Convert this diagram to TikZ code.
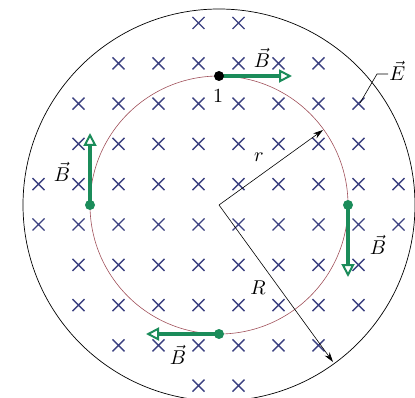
\documentclass[tikz,border=0pt]{standalone}
\usetikzlibrary{arrows.meta}
\definecolor{crossblue}{HTML}{3B4080}
\definecolor{bgreen}{HTML}{1B8C5A}
\definecolor{ringred}{HTML}{A0505A}
\begin{document}
\begin{tikzpicture}[x=1pt,y=-1pt,
  crossmark/.style={draw=crossblue,line width=1.4pt},
  barrow/.style={draw=bgreen,line width=4pt,
    -{Triangle[open,length=13pt,width=13pt,line width=2pt]}},
  lbl/.style={scale=2.0,inner sep=0pt},
  radline/.style={draw=black,line width=0.6pt,-{Stealth[length=10pt,width=6pt]}}]
\useasboundingbox (0,0) rectangle (415,398);
% circles
\coordinate (O) at (219,205);
\draw[line width=0.7pt] (O) circle[radius=196];
\draw[ringred,line width=0.6pt] (O) circle[radius=129];
% crosses
\foreach \j/\a/\b in {0/4/5,1/2/7,2/1/8,3/1/8,4/0/9,5/0/9,6/1/8,7/1/8,8/2/7,9/4/5}{
  \foreach \i in {\a,...,\b}{
    \pgfmathsetmacro\cx{38.5+40*\i}
    \pgfmathsetmacro\cy{23+40.3*\j}
    \draw[crossmark] (\cx-6,\cy-6) -- (\cx+6,\cy+6) (\cx-6,\cy+6) -- (\cx+6,\cy-6);
  }
}
% radius arrows
\coordinate (rEnd) at (323,130);
\coordinate (REnd) at (333,362);
\draw[radline] (O) -- (rEnd);
\draw[radline] (O) -- (REnd);
\node[lbl] (rl) at (259,157) {$r$};
\node[lbl] (Rl) at (258,288) {$R$};
% E label
\coordinate (e1) at (360,103);
\coordinate (e2) at (377,74);
\coordinate (e3) at (388,74);
\draw[line width=0.6pt] (e1) -- (e2) -- (e3);
\node[lbl,anchor=west] (El) at (389,71) {$\vec E$};
% B vectors
\coordinate (p1) at (219,76);
\coordinate (p2) at (90,205);
\coordinate (p3) at (348,205);
\coordinate (p4) at (219,334);
\coordinate (q1) at (292,76);
\coordinate (q2) at (90,133);
\coordinate (q3) at (348,277);
\coordinate (q4) at (146,334);
\draw[barrow] (p1) -- (q1);
\draw[barrow] (p2) -- (q2);
\draw[barrow] (p3) -- (q3);
\draw[barrow] (p4) -- (q4);
\fill[black] (p1) circle[radius=5];
\fill[bgreen] (p2) circle[radius=5];
\fill[bgreen] (p3) circle[radius=5];
\fill[bgreen] (p4) circle[radius=5];
\node[lbl] (one) at (218,96) {1};
\node[lbl] (B1) at (262,58) {$\vec B$};
\node[lbl] (B2) at (62,172) {$\vec B$};
\node[lbl] (B3) at (378,245) {$\vec B$};
\node[lbl] (B4) at (178,355) {$\vec B$};
\end{tikzpicture}
\end{document}
